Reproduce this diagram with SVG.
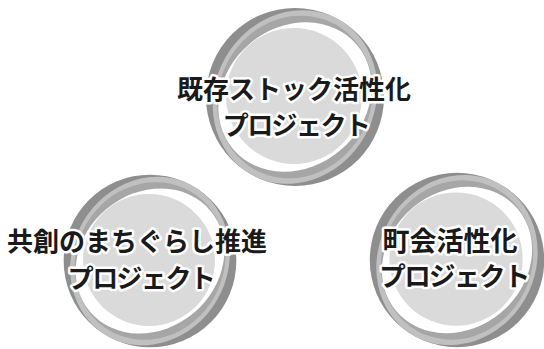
<svg xmlns="http://www.w3.org/2000/svg" width="544" height="349" viewBox="0 0 544 349">
  <style>
    .lbl { font-family: "Noto Sans CJK JP", "Noto Sans", sans-serif; font-size: 26px; font-weight: 700; fill: #1a1a1a; stroke: #ffffff; stroke-width: 5px; stroke-linejoin: round; paint-order: stroke; text-anchor: middle; }
    .kata { letter-spacing: -1.6px; }
  </style>
  <defs>
    <g id="swirl">
      <circle cx="0" cy="0" r="89" fill="#8e8e8e"/>
      <ellipse cx="0" cy="0" rx="80" ry="89" transform="rotate(30)" fill="#c0c0c0"/>
      <ellipse cx="0" cy="0" rx="76" ry="83" transform="rotate(30)" fill="#a6a6a6"/>
      <ellipse cx="0" cy="0" rx="70" ry="81" transform="rotate(50)" fill="#ffffff"/>
      <circle cx="-1" cy="-1" r="68" fill="#dadada"/>
    </g>
  </defs>
  <rect width="544" height="349" fill="#ffffff"/>
  <g id="connectors"></g>
  <g id="node-top">
    <use href="#swirl" transform="translate(295,97)"/>
    <text class="lbl" x="294" y="99" font-size="25.5">既存ストック活性化</text>
    <text class="lbl kata" x="296" y="135">プロジェクト</text>
  </g>
  <g id="node-left">
    <use href="#swirl" transform="translate(150,261) scale(0.97)"/>
    <text class="lbl" x="137" y="251">共創のまちぐらし推進</text>
    <text class="lbl kata" x="141" y="288">プロジェクト</text>
  </g>
  <g id="node-right">
    <use href="#swirl" transform="translate(457,260) scale(0.98)"/>
    <text class="lbl" x="450" y="251" style="font-size:27px">町会活性化</text>
    <text class="lbl kata" x="454" y="286" style="font-size:26.5px">プロジェクト</text>
  </g>
</svg>
